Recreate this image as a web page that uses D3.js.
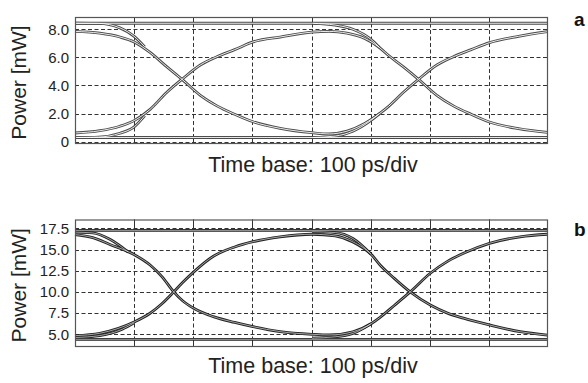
<!DOCTYPE html>
<html><head><meta charset="utf-8">
<script src="https://cdn.jsdelivr.net/npm/d3@7"></script>
<style>body{margin:0;background:#fff}svg{display:block}</style>
</head><body>
<svg id="c" width="588" height="383"></svg>
<script>
// ---------- DATA ----------
const timeDivs = [0, 100, 200, 300, 400, 500, 600, 700, 800]; // ps
const xLabel = "Time base: 100 ps/div";
const yLabel = "Power [mW]";

// Panel a
const aTicks = [0, 2, 4, 6, 8];
const aTickLabels = ["0", "2.0", "4.0", "6.0", "8.0"];
const aHigh = 8.43, aLow = 0.3;
const aTraceP = [[0,7.85],[42,7.72],[76,7.45],[100,7.1],[127,6.35],[155,5.34],[181,4.44],[212,3.3],[240,2.55],[270,1.95],[301,1.42],[347,0.95],[401,0.64],[430,0.55],[460,0.75],[490,1.3],[515,2.0],[530,2.5],[555,3.5],[581,4.44],[612,5.46],[640,6.05],[670,6.55],[701,7.05],[750,7.5],[799,7.83]];
const aTraceQ = [[0,0.62],[42,0.78],[76,1.1],[100,1.5],[127,2.3],[155,3.5],[181,4.44],[212,5.46],[240,6.05],[270,6.55],[301,7.1],[347,7.45],[401,7.8],[430,7.85],[460,7.72],[490,7.35],[515,6.7],[530,6.15],[555,5.34],[581,4.44],[612,3.3],[640,2.55],[670,1.95],[701,1.4],[750,0.93],[799,0.66]];
const aBranchFall1 = [[0,8.43],[40,8.42],[76,8.1],[100,7.5],[118,6.75]];
const aBranchRise1 = [[0,0.3],[40,0.33],[76,0.6],[100,1.05],[118,1.85]];
const aBranchFall2 = [[403,8.42],[440,8.3],[470,8.0],[500,7.3],[515,6.7]];
const aBranchRise2 = [[403,0.3],[440,0.4],[470,0.75],[500,1.5],[515,2.0]];

// Panel b
const bTicks = [5, 7.5, 10, 12.5, 15, 17.5];
const bTickLabels = ["5.0", "7.5", "10.0", "12.5", "15.0", "17.5"];
const bHigh = 17.26, bLow = 4.41;
const bTraceP = [[0,16.76],[30,16.4],[59,15.6],[100,14.4],[127,13.17],[147,11.8],[167,10.0],[182,8.95],[200,8.1],[234,7.08],[270,6.4],[301,5.9],[347,5.31],[401,5.0],[430,4.92],[470,5.3],[502,6.3],[516,7.0],[540,8.4],[567,10.0],[601,12.2],[630,13.6],[657,14.55],[701,15.73],[753,16.5],[799,16.8]];
const bTraceQ = [[0,4.84],[42,5.12],[100,6.45],[127,7.48],[147,8.6],[167,10.0],[182,11.1],[200,12.3],[234,14.2],[270,15.3],[301,15.92],[347,16.5],[401,16.8],[440,16.6],[470,15.9],[502,14.35],[516,13.17],[540,11.6],[567,10.0],[601,8.45],[630,7.5],[657,6.9],[701,6.1],[753,5.3],[799,4.9]];
const bBranchFall1 = [[0,17.05],[30,16.95],[59,16.2],[90,14.7]];
const bBranchRise1 = [[0,4.62],[42,4.85],[80,5.6],[100,6.35]];
const bBranchFall2 = [[401,17.1],[440,17.0],[470,16.3],[500,14.5]];
const bBranchRise2 = [[401,4.55],[440,4.7],[470,5.1],[500,6.2]];

// ---------- DRAW ----------
const svg = d3.select("#c");
const FONT = "'Liberation Sans', Arial, Helvetica, sans-serif";

function panel(cfg) {
  const x = d3.scaleLinear().domain([0, 800]).range([75, 548]);
  const y = d3.scaleLinear().domain(cfg.domain).range(cfg.range);
  const g = svg.append("g");
  const [y0, y1] = cfg.range; // bottom, top

  g.selectAll(".hg").data(cfg.ticks).enter().append("line")
    .attr("x1", x(0)).attr("x2", x(800))
    .attr("y1", d => Math.round(y(d)) + 0.5).attr("y2", d => Math.round(y(d)) + 0.5)
    .attr("stroke", "#333").attr("stroke-width", 1).attr("stroke-dasharray", "4,2.5");
  const inner = timeDivs.slice(1, -1);
  g.selectAll(".vg").data(inner).enter().append("line")
    .attr("x1", d => Math.round(x(d)) + 0.5).attr("x2", d => Math.round(x(d)) + 0.5)
    .attr("y1", y1).attr("y2", y0)
    .attr("stroke", "#333").attr("stroke-width", 1).attr("stroke-dasharray", "4,2.5");
  g.selectAll(".tt").data(inner).enter().append("line")
    .attr("x1", d => Math.round(x(d)) + 0.5).attr("x2", d => Math.round(x(d)) + 0.5)
    .attr("y1", y1).attr("y2", y1 + 7).attr("stroke", "#333");
  g.selectAll(".tb").data(inner).enter().append("line")
    .attr("x1", d => Math.round(x(d)) + 0.5).attr("x2", d => Math.round(x(d)) + 0.5)
    .attr("y1", y0 - 7).attr("y2", y0).attr("stroke", "#333");

  const line = d3.line().x(d => x(d[0])).y(d => y(d[1])).curve(d3.curveMonotoneX);
  const traces = [
    [[0, cfg.high], [800, cfg.high]],
    [[0, cfg.low], [800, cfg.low]],
    ...cfg.branches, cfg.P, cfg.Q
  ];
  traces.forEach(t => {
    g.append("path").attr("d", line(t)).attr("fill", "none")
      .attr("stroke", cfg.outer).attr("stroke-width", 2.8);
  });
  traces.forEach(t => {
    g.append("path").attr("d", line(t)).attr("fill", "none")
      .attr("stroke", "#fff").attr("stroke-width", cfg.innerW);
  });

  g.append("rect").attr("x", x(0) + 0.5).attr("y", y1 + 0.5)
    .attr("width", x(800) - x(0) - 1).attr("height", y0 - y1 - 1)
    .attr("fill", "none").attr("stroke", "#555").attr("stroke-width", 1.2);

  g.selectAll(".yl").data(cfg.ticks).enter().append("text")
    .attr("x", 69).attr("y", d => y(d)).attr("dy", "0.36em")
    .attr("text-anchor", "end").attr("font-family", FONT).attr("font-size", 15)
    .attr("fill", "#222").text((d, i) => cfg.labels[i]);

  g.append("text").attr("transform", `translate(${26},${(y0 + y1) / 2 + 2}) rotate(-90)`)
    .attr("text-anchor", "middle").attr("font-family", FONT).attr("font-size", 21)
    .attr("fill", "#222").text(yLabel);
  g.append("text").attr("x", 313).attr("y", cfg.xLabelY)
    .attr("text-anchor", "middle").attr("font-family", FONT).attr("font-size", 21.5)
    .attr("fill", "#222").text(xLabel);
  g.append("text").attr("x", 574).attr("y", cfg.letterY)
    .attr("font-family", FONT).attr("font-size", 19).attr("font-weight", "bold")
    .attr("fill", "#111").text(cfg.letter);
}

panel({domain: [-0.164, 8.875], range: [144, 17], ticks: aTicks, labels: aTickLabels,
  high: aHigh, low: aLow, P: aTraceP, Q: aTraceQ,
  branches: [aBranchFall1, aBranchRise1, aBranchFall2, aBranchRise2],
  outer: "#4a4a4a", innerW: 0.9, xLabelY: 172, letter: "a", letterY: 26});
panel({domain: [3.5, 18.54], range: [347, 219.5], ticks: bTicks, labels: bTickLabels,
  high: bHigh, low: bLow, P: bTraceP, Q: bTraceQ,
  branches: [bBranchFall1, bBranchRise1, bBranchFall2, bBranchRise2],
  outer: "#222", innerW: 0.6, xLabelY: 373, letter: "b", letterY: 236});
</script>
</body></html>
